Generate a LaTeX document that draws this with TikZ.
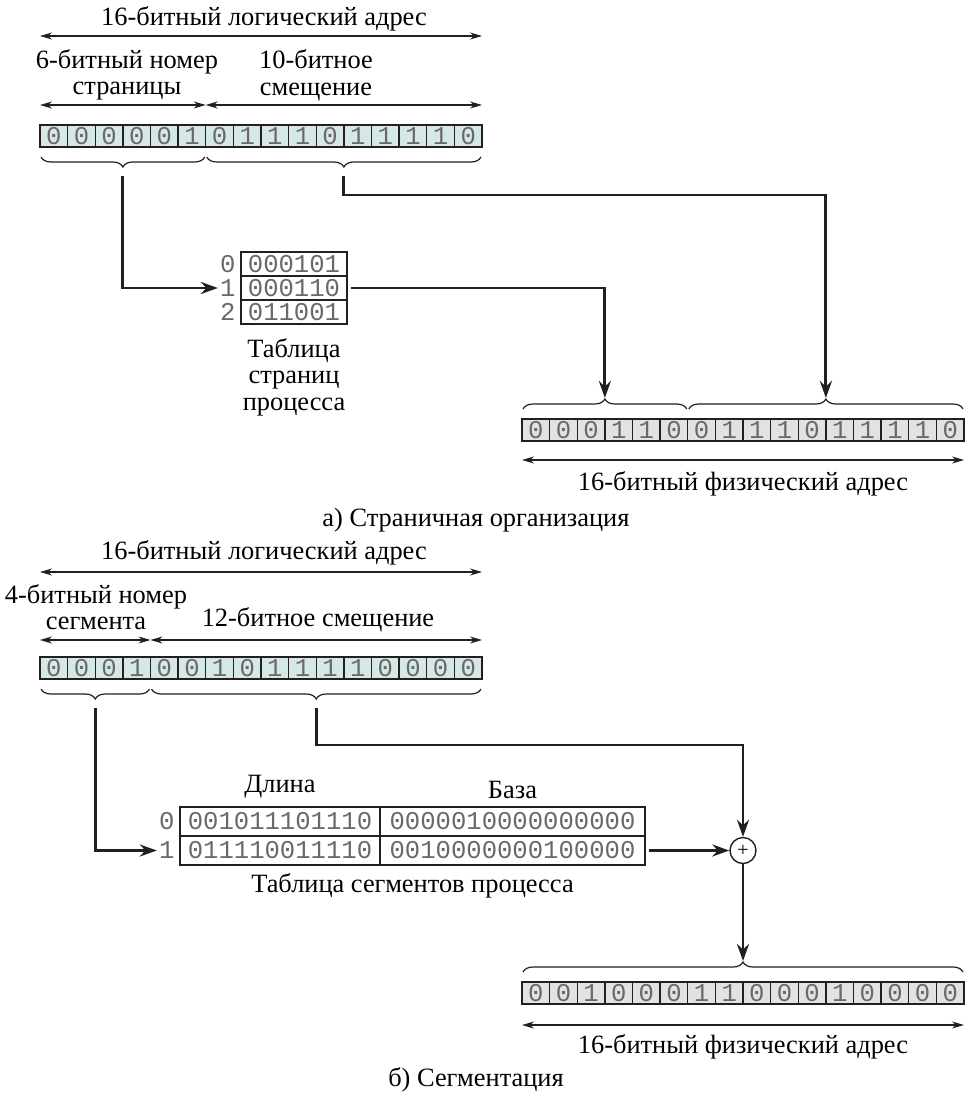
\documentclass[tikz,border=0pt]{standalone}
\usepackage{fontspec}
\setmainfont{Liberation Serif}
\setmonofont{Liberation Mono}
\usepackage{tikz}
\usetikzlibrary{positioning, arrows.meta, calc, decorations.pathreplacing}
\definecolor{ink}{RGB}{35,31,32}
\definecolor{digit}{RGB}{105,105,105}
\definecolor{logicbg}{RGB}{214,232,230}
\definecolor{physbg}{RGB}{226,226,226}
\tikzset{
  caption text/.style={font=\fontsize{13.2}{13.3}\selectfont, align=center, inner sep=0pt},
  bit/.style={
    draw=ink, line width=0.7pt, minimum width=13.81pt, minimum height=11pt,
    inner sep=0pt, outer sep=0pt, font=\fontsize{12.8}{12.8}\ttfamily\color{digit}
  },
  logic bit/.style={bit, fill=logicbg},
  phys bit/.style={bit, fill=physbg},
  page row/.style={bit, minimum width=53pt, minimum height=12pt},
  len cell/.style={bit, minimum width=100pt, minimum height=14.5pt},
  base cell/.style={bit, minimum width=132.5pt, minimum height=14.5pt},
  row num/.style={inner sep=1pt, font=\fontsize{12.8}{12.8}\ttfamily\color{digit}},
  adder/.style={circle, draw=ink, line width=0.7pt, minimum size=13pt, inner sep=0pt, font=\fontsize{10}{10}\selectfont},
  dim arrow/.style={draw=ink, line width=0.6pt, {Stealth[length=6pt,width=3.5pt]}-{Stealth[length=6pt,width=3.5pt]}},
  flow/.style={draw=ink, line width=1.4pt, -{Stealth[length=8.5pt,width=6pt]}},
  curly/.style={draw=ink, line width=0.6pt, decorate, decoration={brace, amplitude=5pt}},
  curly down/.style={curly, decoration={mirror}},
}

\begin{document}
\begin{tikzpicture}[x=0.5pt, y=-0.5pt]
  \useasboundingbox (0,0) rectangle (967,1097);

  % а) страничная организация
  \node[caption text] (addrA) at (264,19) {16-битный логический адрес};
  \node[caption text] (pageNo) at (127,75) {6-битный номер\\страницы};
  \node[caption text] (offA) at (316,75) {10-битное\\смещение};

  \foreach \b [count=\i] in {0,0,0,0,0,1,0,1,1,1,0,1,1,1,1,0}
    \node[logic bit] (LA\i) at ({40+27.625*(\i-0.5)},136) {\b};

  \draw[dim arrow] ($(LA1.north west)+(0,-89)$) -- ($(LA16.north east)+(0,-89)$);
  \draw[dim arrow] ($(LA1.north west)+(0,-20)$) -- ($(LA6.north east)+(0,-20)$);
  \draw[dim arrow] ($(LA7.north west)+(0,-20)$) -- ($(LA16.north east)+(0,-20)$);

  \draw[curly down] ($(LA1.south west)+(1,10)$) -- ($(LA6.south east)+(-1,10)$);
  \draw[curly down] ($(LA7.south west)+(1,10)$) -- ($(LA16.south east)+(-1,10)$);
  \coordinate (pageTip) at ($(LA1.south west)!.5!(LA6.south east)+(0,29)$);
  \coordinate (offTipA) at ($(LA7.south west)!.5!(LA16.south east)+(0,29)$);

  \node[page row] (PT0) at (294,264) {000101};
  \node[page row, below=0pt of PT0] (PT1) {000110};
  \node[page row, below=0pt of PT1] (PT2) {011001};
  \node[row num, left=1.5pt of PT0] (PL0) {0};
  \node[row num, left=1.5pt of PT1] (PL1) {1};
  \node[row num, left=1.5pt of PT2] (PL2) {2};
  \node[caption text, below=7pt of PT2] (ptCap) {Таблица\\страниц\\процесса};

  \foreach \b [count=\i] in {0,0,0,1,1,0,0,1,1,1,0,1,1,1,1,0}
    \node[phys bit] (PA\i) at ({522+27.625*(\i-0.5)},430) {\b};

  \draw[curly] ($(PA1.north west)+(1,-10)$) -- ($(PA6.north east)+(-1,-10)$);
  \draw[curly] ($(PA7.north west)+(1,-10)$) -- ($(PA16.north east)+(-1,-10)$);
  \coordinate (physTipA) at ($(PA1.north west)!.5!(PA6.north east)+(0,-21)$);
  \coordinate (physTipB) at ($(PA7.north west)!.5!(PA16.north east)+(0,-21)$);
  \draw[dim arrow] ($(PA1.south west)+(0,19)$) -- ($(PA16.south east)+(0,19)$);
  \node[caption text] (physA) at (743,484) {16-битный физический адрес};
  \node[caption text] (capA) at (476,520) {а) Страничная организация};

  \draw[flow] (pageTip) |- (PL1.west);
  \draw[flow] (offTipA) -- ++(0,19) -| (physTipB);
  \draw[flow] ([xshift=2pt]PT1.east) -| (physTipA);

  % б) сегментация
  \node[caption text] (addrB) at (264,553) {16-битный логический адрес};
  \node[caption text] (segNo) at (96,607) {4-битный номер\\сегмента};
  \node[caption text] (offB) at (318,620) {12-битное смещение};

  \foreach \b [count=\i] in {0,0,0,1,0,0,1,0,1,1,1,1,0,0,0,0}
    \node[logic bit] (LB\i) at ({40+27.625*(\i-0.5)},668) {\b};

  \draw[dim arrow] ($(LB1.north west)+(0,-85)$) -- ($(LB16.north east)+(0,-85)$);
  \draw[dim arrow] ($(LB1.north west)+(0,-17)$) -- ($(LB4.north east)+(0,-17)$);
  \draw[dim arrow] ($(LB5.north west)+(0,-17)$) -- ($(LB16.north east)+(0,-17)$);

  \draw[curly down] ($(LB1.south west)+(1,10)$) -- ($(LB4.south east)+(-1,10)$);
  \draw[curly down] ($(LB5.south west)+(1,10)$) -- ($(LB16.south east)+(-1,10)$);
  \coordinate (segTip) at ($(LB1.south west)!.5!(LB4.south east)+(0,29)$);
  \coordinate (offTipB) at ($(LB5.south west)!.5!(LB16.south east)+(0,29)$);

  \node[len cell] (SL0) at (280,821.5) {001011101110};
  \node[base cell, right=0pt of SL0] (SB0) {0000010000000000};
  \node[len cell, below=0pt of SL0] (SL1) {011110011110};
  \node[base cell, right=0pt of SL1] (SB1) {0010000000100000};
  \node[row num, left=1.5pt of SL0] (SN0) {0};
  \node[row num, left=1.5pt of SL1] (SN1) {1};
  \node[caption text, above=4pt of SL0] (lenHead) {Длина};
  \node[caption text, above=4pt of SB0] (baseHead) {База};
  \node[caption text, anchor=north] (stCap) at ($(SL1.south west)!.5!(SB1.south east)+(0,8)$) {Таблица сегментов процесса};

  \node[adder] (sum) at (743,850.5) {+};

  \foreach \b [count=\i] in {0,0,1,0,0,0,1,1,0,0,0,1,0,0,0,0}
    \node[phys bit] (PB\i) at ({522+27.625*(\i-0.5)},993) {\b};

  \draw[curly] ($(PB1.north west)+(1,-10)$) -- ($(PB16.north east)+(-1,-10)$);
  \coordinate (physTipC) at ($(PB1.north west)!.5!(PB16.north east)+(0,-21)$);
  \draw[dim arrow] ($(PB1.south west)+(0,21)$) -- ($(PB16.south east)+(0,21)$);
  \node[caption text] (physB) at (743,1047) {16-битный физический адрес};
  \node[caption text] (capB) at (476,1080) {б) Сегментация};

  \draw[flow] (segTip) |- (SN1.west);
  \draw[flow] (offTipB) -- ++(0,37) -| (sum.north);
  \draw[flow] ([xshift=2pt]SB1.east) -- (sum.west);
  \draw[flow] (sum.south) -- (physTipC);
\end{tikzpicture}
\end{document}
